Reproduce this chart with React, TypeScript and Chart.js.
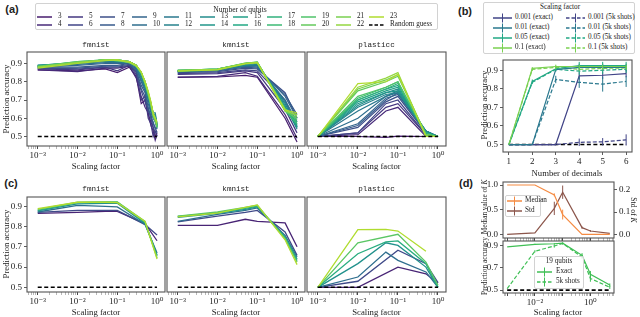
import React, { useEffect, useRef } from 'react';
import { Chart, registerables } from 'chart.js';

Chart.register(...registerables);

const SERIF = '"Liberation Serif", "DejaVu Serif", serif';
const MONO = '"Liberation Mono", "DejaVu Sans Mono", monospace';
const SANS = '"Liberation Sans", "DejaVu Sans", sans-serif';
const TXT = '#222';

// ---------------- data ----------------
const QUBITS = [3, 4, 5, 6, 7, 8, 9, 10, 11, 12, 13, 14, 15, 16, 17, 18, 19, 20, 21, 22, 23];
const RANDOM_X = [0.001, 1];
const RANDOM_Y = [0.5, 0.5];

// (a) fmnist
const X_FMNIST_A = [0.001, 0.01, 0.05, 0.1, 0.2, 0.3, 0.4, 0.5, 0.6, 0.7, 0.8, 0.9, 1.0];
const FMNIST_A = [
  [0.865, 0.86, 0.87, 0.85, 0.88, 0.83, 0.68, 0.7, 0.62, 0.58, 0.55, 0.5, 0.52],
  [0.865, 0.855, 0.875, 0.875, 0.885, 0.82, 0.72, 0.66, 0.63, 0.56, 0.53, 0.48, 0.51],
  [0.87, 0.865, 0.88, 0.86, 0.89, 0.85, 0.7, 0.72, 0.6, 0.57, 0.5, 0.53, 0.5],
  [0.875, 0.87, 0.88, 0.88, 0.89, 0.84, 0.75, 0.69, 0.65, 0.6, 0.55, 0.52, 0.53],
  [0.875, 0.875, 0.885, 0.885, 0.895, 0.86, 0.76, 0.72, 0.64, 0.62, 0.57, 0.55, 0.52],
  [0.88, 0.88, 0.89, 0.89, 0.9, 0.86, 0.78, 0.74, 0.66, 0.6, 0.58, 0.54, 0.55],
  [0.88, 0.89, 0.9, 0.9, 0.9, 0.87, 0.8, 0.75, 0.68, 0.63, 0.6, 0.58, 0.54],
  [0.885, 0.895, 0.905, 0.905, 0.905, 0.875, 0.81, 0.76, 0.7, 0.64, 0.61, 0.6, 0.56],
  [0.885, 0.9, 0.91, 0.91, 0.905, 0.88, 0.82, 0.77, 0.71, 0.66, 0.62, 0.62, 0.55],
  [0.89, 0.9, 0.915, 0.91, 0.91, 0.885, 0.83, 0.78, 0.72, 0.67, 0.63, 0.63, 0.57],
  [0.89, 0.905, 0.915, 0.915, 0.91, 0.89, 0.84, 0.77, 0.73, 0.66, 0.62, 0.61, 0.56],
  [0.89, 0.905, 0.92, 0.915, 0.91, 0.885, 0.84, 0.79, 0.72, 0.68, 0.63, 0.6, 0.57],
  [0.885, 0.905, 0.92, 0.92, 0.91, 0.89, 0.85, 0.79, 0.74, 0.67, 0.61, 0.61, 0.56],
  [0.885, 0.905, 0.92, 0.915, 0.91, 0.885, 0.845, 0.8, 0.73, 0.68, 0.62, 0.6, 0.55],
  [0.885, 0.91, 0.92, 0.92, 0.91, 0.89, 0.85, 0.8, 0.74, 0.68, 0.63, 0.59, 0.56],
  [0.885, 0.905, 0.92, 0.92, 0.91, 0.885, 0.85, 0.79, 0.73, 0.67, 0.62, 0.6, 0.55],
  [0.88, 0.905, 0.92, 0.915, 0.905, 0.89, 0.845, 0.8, 0.74, 0.68, 0.62, 0.58, 0.56],
  [0.885, 0.91, 0.92, 0.92, 0.91, 0.885, 0.85, 0.8, 0.73, 0.67, 0.61, 0.59, 0.55],
  [0.88, 0.905, 0.92, 0.915, 0.91, 0.89, 0.85, 0.79, 0.74, 0.68, 0.62, 0.59, 0.56],
  [0.88, 0.905, 0.92, 0.92, 0.905, 0.885, 0.85, 0.8, 0.74, 0.69, 0.62, 0.6, 0.57],
  [0.875, 0.9, 0.915, 0.92, 0.91, 0.89, 0.855, 0.8, 0.75, 0.69, 0.63, 0.6, 0.58],
];

// (a) kmnist
const X_KMNIST_A = [0.001, 0.01, 0.05, 0.1, 0.5, 1.0];
const KMNIST_A = [
  [0.824, 0.826, 0.835, 0.825, 0.6, 0.47],
  [0.826, 0.83, 0.85, 0.83, 0.62, 0.49],
  [0.84, 0.845, 0.86, 0.85, 0.65, 0.52],
  [0.845, 0.85, 0.865, 0.86, 0.7, 0.55],
  [0.85, 0.855, 0.875, 0.87, 0.74, 0.6],
  [0.855, 0.86, 0.88, 0.875, 0.73, 0.62],
  [0.855, 0.865, 0.885, 0.88, 0.72, 0.6],
  [0.855, 0.865, 0.885, 0.885, 0.7, 0.58],
  [0.855, 0.865, 0.89, 0.89, 0.69, 0.56],
  [0.855, 0.865, 0.89, 0.895, 0.68, 0.55],
  [0.858, 0.868, 0.895, 0.9, 0.67, 0.54],
  [0.86, 0.868, 0.897, 0.902, 0.66, 0.55],
  [0.862, 0.87, 0.898, 0.905, 0.66, 0.56],
  [0.86, 0.87, 0.9, 0.905, 0.65, 0.57],
  [0.862, 0.87, 0.9, 0.907, 0.65, 0.58],
  [0.86, 0.868, 0.9, 0.905, 0.64, 0.57],
  [0.862, 0.87, 0.902, 0.908, 0.65, 0.59],
  [0.86, 0.868, 0.9, 0.906, 0.64, 0.6],
  [0.862, 0.87, 0.902, 0.908, 0.65, 0.61],
  [0.86, 0.868, 0.9, 0.905, 0.64, 0.62],
  [0.858, 0.865, 0.898, 0.905, 0.645, 0.63],
];

// (a) plasticc
const X_PLASTICC_A = [0.001, 0.01, 0.05, 0.1, 0.5, 1.0];
const PLASTICC_A = [
  [0.5, 0.5, 0.495, 0.502, 0.5, 0.5],
  [0.5, 0.51, 0.64, 0.66, 0.5, 0.5],
  [0.5, 0.52, 0.66, 0.68, 0.51, 0.5],
  [0.5, 0.52, 0.68, 0.7, 0.51, 0.5],
  [0.5, 0.55, 0.69, 0.72, 0.52, 0.5],
  [0.5, 0.56, 0.7, 0.74, 0.52, 0.5],
  [0.5, 0.57, 0.71, 0.73, 0.53, 0.5],
  [0.5, 0.6, 0.72, 0.74, 0.53, 0.5],
  [0.5, 0.64, 0.72, 0.75, 0.53, 0.5],
  [0.5, 0.66, 0.73, 0.74, 0.53, 0.5],
  [0.5, 0.67, 0.74, 0.76, 0.53, 0.5],
  [0.5, 0.68, 0.74, 0.75, 0.52, 0.5],
  [0.5, 0.69, 0.75, 0.77, 0.52, 0.5],
  [0.5, 0.7, 0.76, 0.78, 0.52, 0.5],
  [0.5, 0.7, 0.76, 0.79, 0.52, 0.5],
  [0.5, 0.71, 0.77, 0.8, 0.51, 0.5],
  [0.5, 0.72, 0.77, 0.8, 0.51, 0.5],
  [0.5, 0.75, 0.8, 0.83, 0.51, 0.5],
  [0.5, 0.76, 0.81, 0.84, 0.51, 0.5],
  [0.5, 0.77, 0.82, 0.85, 0.5, 0.5],
  [0.5, 0.79, 0.8, 0.84, 0.5, 0.5],
];

// (c) selected runs
const X_C = [0.001, 0.01, 0.05, 0.1, 0.5, 1.0];
const FMNIST_C = [
  [0.865, 0.87, 0.875, 0.875, 0.815, 0.73],
  [0.87, 0.88, 0.88, 0.88, 0.81, 0.758],
  [0.872, 0.905, 0.9, 0.897, 0.81, 0.67],
  [0.877, 0.912, 0.915, 0.915, 0.815, 0.66],
  [0.88, 0.918, 0.92, 0.92, 0.82, 0.655],
  [0.885, 0.92, 0.922, 0.922, 0.825, 0.645],
  [0.888, 0.92, 0.92, 0.918, 0.825, 0.64],
];
const KMNIST_C = [
  [0.806, 0.806, 0.836, 0.826, 0.818, 0.7],
  [0.823, 0.852, 0.87, 0.88, 0.773, 0.658],
  [0.826, 0.86, 0.88, 0.892, 0.757, 0.65],
  [0.845, 0.865, 0.885, 0.897, 0.75, 0.64],
  [0.85, 0.868, 0.89, 0.9, 0.745, 0.632],
  [0.852, 0.872, 0.895, 0.905, 0.74, 0.625],
  [0.848, 0.866, 0.895, 0.907, 0.735, 0.612],
];
const PLASTICC_C = [
  [0.5, 0.5, null, 0.6, 0.567, 0.52],
  [0.5, 0.53, null, 0.683, 0.617, 0.523],
  [0.5, 0.551, 0.674, 0.633, 0.576, 0.5],
  [0.5, 0.617, 0.72, 0.707, 0.6, 0.5],
  [0.5, 0.666, 0.724, 0.729, 0.617, 0.5],
  [0.5, 0.72, null, 0.762, 0.625, 0.51],
  [0.5, 0.785, 0.786, 0.778, 0.678, null],
];

// (b)
const DECIMALS = [1, 2, 3, 4, 5, 6];
const SCALES_B = ['0.001', '0.01', '0.05', '0.1'];
const B_EXACT = [
  [0.5, 0.5, 0.5, 0.87, 0.873, 0.882],
  [0.5, 0.5, 0.903, 0.915, 0.915, 0.915],
  [0.5, 0.84, 0.908, 0.925, 0.925, 0.925],
  [0.5, 0.91, 0.92, 0.92, 0.92, 0.92],
];
const B_EXACT_ERR = [
  [0, 0, 0, 0.02, 0.02, 0.02],
  [0, 0, 0.01, 0.02, 0.02, 0.02],
  [0, 0.01, 0.01, 0.02, 0.02, 0.02],
  [0, 0.005, 0.01, 0.01, 0.01, 0.01],
];
const B_SHOTS = [
  [0.5, 0.5, 0.5, 0.512, 0.515, 0.525],
  [0.5, 0.5, 0.85, 0.835, 0.825, 0.84],
  [0.5, 0.835, 0.905, 0.895, 0.9, 0.905],
  [0.5, 0.905, 0.915, 0.905, 0.91, 0.912],
];
const B_SHOTS_ERR = [
  [0, 0, 0.005, 0.02, 0.02, 0.03],
  [0, 0, 0.02, 0.03, 0.04, 0.03],
  [0, 0.01, 0.01, 0.02, 0.02, 0.02],
  [0, 0.01, 0.01, 0.01, 0.01, 0.01],
];
const B_RANDOM_X = [1, 6];

// (d)
const X_D = [0.001, 0.01, 0.05, 0.1, 0.5, 1, 5];
const D_MEDIAN = [1.0, 1.0, 0.8, 0.4, 0.0, 0.0, 0.0];
const D_MEDIAN_ERR = [0, 0, 0.03, 0.1, 0, 0, 0];
const D_STD = [0.0, 0.006, 0.117, 0.19, 0.03, 0.015, 0.004];
const D_STD_ERR = [0, 0, 0.03, 0.03, 0.005, 0.004, 0];
const D_EXACT = [0.892, 0.915, 0.92, 0.925, 0.815, 0.643, 0.545];
const D_EXACT_ERR = [0, 0.005, 0.005, 0.005, 0.02, 0.03, 0.015];
const D_SHOTS = [0.513, 0.852, 0.9, 0.922, 0.8, 0.605, 0.525];
const D_SHOTS_ERR = [0, 0.01, 0.015, 0.01, 0.02, 0.03, 0.015];
const D_RANDOM_X = [0.001, 5];

const Y_TICKS_A = [0.5, 0.6, 0.7, 0.8, 0.9];
const Y_TICKS_D_TOP = [0.0, 0.5, 1.0];
const Y_TICKS_D_STD = [0.0, 0.1, 0.2];
const Y_TICKS_D_BOT = [0.5, 0.7, 0.9];

// ---------------- styling helpers ----------------
const VIR = ['#440154', '#482475', '#414487', '#355f8d', '#2a788e', '#21918c', '#22a884', '#44bf70', '#7ad151', '#bddf26', '#fde725'];
function hexRgb(h: string) {
  return [parseInt(h.slice(1, 3), 16), parseInt(h.slice(3, 5), 16), parseInt(h.slice(5, 7), 16)];
}
function viridis(t: number) {
  const x = Math.max(0, Math.min(1, t)) * 10;
  const i = Math.min(9, Math.floor(x));
  const f = x - i;
  const a = hexRgb(VIR[i]);
  const b = hexRgb(VIR[i + 1]);
  const c = a.map((v, k) => Math.round(v + (b[k] - v) * f));
  return `rgb(${c[0]},${c[1]},${c[2]})`;
}
const qubitColor = (n: number) => viridis(0.08 + ((n - 3) / 20) * 0.8);
const C_SHADES = [0.1, 0.22, 0.36, 0.5, 0.62, 0.74, 0.88].map(viridis);
const B_COLORS = [0.2, 0.4, 0.6, 0.8].map(viridis);
const ORANGE = '#f58b42';
const BROWN = '#8c564b';
const GREEN = '#3fbf55';

const SUP: Record<string, string> = { '-': '\u207b', '0': '\u2070', '1': '\u00b9', '2': '\u00b2', '3': '\u00b3', '4': '\u2074', '5': '\u2075' };
function isPow(v: number) {
  const l = Math.log10(v);
  return Math.abs(l - Math.round(l)) < 1e-6;
}
function powLabel(v: number, every: number) {
  if (!isPow(v)) return '';
  const e = Math.round(Math.log10(v));
  if (e % every !== 0) return '';
  return '10' + String(e).split('').map((c) => SUP[c]).join('');
}
function logTickValues(min: number, max: number) {
  const out: number[] = [];
  for (let d = -5; d <= 2; d++) {
    for (let k = 1; k <= 9; k++) {
      const v = k * Math.pow(10, d);
      if (v >= min * 1.0001 && v <= max * 0.9999) out.push(v);
    }
  }
  return out;
}

function line(xs: number[], ys: (number | null)[], color: string, extra: any = {}) {
  return {
    data: xs.map((x, i) => ({ x, y: ys[i] })),
    borderColor: color,
    backgroundColor: color,
    borderWidth: 1.2,
    pointRadius: 0,
    pointHoverRadius: 0,
    tension: 0,
    spanGaps: true,
    fill: false,
    ...extra,
  };
}
const dashed = (xs: number[], ys: number[]) =>
  line(xs, ys, '#000', { borderDash: [4, 2.5], borderWidth: 1.5, order: 0 });

const framePlugin = {
  id: 'frame',
  afterDraw(chart: any) {
    const { ctx, chartArea: a } = chart;
    ctx.save();
    ctx.strokeStyle = '#555';
    ctx.lineWidth = 1.1;
    ctx.setLineDash([]);
    ctx.strokeRect(a.left, a.top, a.right - a.left, a.bottom - a.top);
    ctx.restore();
  },
};
const errPlugin = {
  id: 'errbars',
  afterDatasetsDraw(chart: any) {
    const ctx = chart.ctx;
    chart.data.datasets.forEach((ds: any, i: number) => {
      if (!ds.errs) return;
      const meta = chart.getDatasetMeta(i);
      const ys = chart.scales[meta.yAxisID];
      ctx.save();
      ctx.strokeStyle = ds.borderColor;
      ctx.lineWidth = 1;
      ctx.setLineDash([]);
      meta.data.forEach((pt: any, j: number) => {
        const e = ds.errs[j];
        const v = ds.data[j].y;
        if (!e || v == null) return;
        ctx.beginPath();
        ctx.moveTo(pt.x, ys.getPixelForValue(v - e));
        ctx.lineTo(pt.x, ys.getPixelForValue(v + e));
        ctx.stroke();
      });
      ctx.restore();
    });
  },
};

const fix = (size: number, horizontal: boolean) => (s: any) => {
  if (horizontal) s.height = size;
  else s.width = size;
  s.paddingLeft = 0;
  s.paddingRight = 0;
  s.paddingTop = 0;
  s.paddingBottom = 0;
};
const gridOpts = (show: boolean) => ({
  display: true,
  drawOnChartArea: false,
  drawTicks: show,
  tickLength: 3,
  tickColor: '#333',
  tickWidth: 0.8,
});
function logX(minE: number, maxE: number, height: number, labels: boolean, every = 1) {
  const min = Math.pow(10, minE);
  const max = Math.pow(10, maxE);
  return {
    type: 'logarithmic',
    position: 'bottom',
    min,
    max,
    afterBuildTicks: (s: any) => {
      s.ticks = logTickValues(min, max).map((v) => ({ value: v }));
    },
    afterFit: fix(height, true),
    ticks: {
      display: labels,
      autoSkip: false,
      maxRotation: 0,
      minRotation: 0,
      padding: 1,
      color: TXT,
      font: { family: SERIF, size: 9 },
      callback: (v: any) => powLabel(Number(v), every),
    },
    grid: {
      ...gridOpts(true),
      tickColor: (c: any) => (c.tick && isPow(c.tick.value) ? '#333' : '#888'),
      tickWidth: (c: any) => (c.tick && isPow(c.tick.value) ? 0.9 : 0.6),
    },
    border: { display: false },
  };
}
function linAxis(position: string, min: number, max: number, ticks: number[], size: number, labels: boolean, digits: number, horizontal = false) {
  return {
    type: 'linear',
    position,
    min,
    max,
    afterBuildTicks: (s: any) => {
      s.ticks = ticks.map((v) => ({ value: v }));
    },
    afterFit: fix(size, horizontal),
    ticks: {
      display: labels,
      autoSkip: false,
      maxRotation: 0,
      minRotation: 0,
      padding: horizontal ? 1 : 2,
      color: TXT,
      font: { family: SERIF, size: 9 },
      callback: (v: any) => Number(v).toFixed(digits),
    },
    grid: gridOpts(labels || horizontal),
    border: { display: false },
  };
}
function config(datasets: any[], scales: any, pad: number[], rightAxis = false) {
  return {
    type: 'line',
    data: { datasets },
    options: {
      animation: false,
      responsive: false,
      events: [],
      layout: { padding: { left: 0, right: rightAxis ? 0 : pad[1], top: pad[2], bottom: 0 }, autoPadding: false },
      plugins: { legend: { display: false }, tooltip: { enabled: false }, title: { display: false } },
      scales,
    },
    plugins: [framePlugin, errPlugin],
  } as any;
}

// ---------------- components ----------------
function Panel({ frame, pad, build }: { frame: number[]; pad: number[]; build: (pad: number[]) => any }) {
  const ref = useRef<HTMLCanvasElement>(null);
  const [l, t, r, b] = frame;
  const [pl, pr, pt, pb] = pad;
  const w = r - l + pl + pr;
  const h = b - t + pt + pb;
  useEffect(() => {
    const chart = new Chart(ref.current as HTMLCanvasElement, build(pad));
    return () => chart.destroy();
  }, []);
  return (
    <canvas
      ref={ref}
      width={w}
      height={h}
      style={{ position: 'absolute', left: l - pl, top: t - pt, width: w, height: h }}
    />
  );
}

function T({ x, y, children, size = 8.7, family = SERIF, weight = 400, rotate = 0, align = 'center', color = TXT }: any) {
  const tx = align === 'center' ? '-50%' : align === 'left' ? '0%' : '-100%';
  return (
    <div
      style={{
        position: 'absolute',
        left: x,
        top: y,
        transform: `translate(${tx}, -50%) rotate(${rotate}deg)`,
        fontFamily: family,
        fontSize: size,
        fontWeight: weight,
        lineHeight: 1,
        whiteSpace: 'nowrap',
        color,
      }}
    >
      {children}
    </div>
  );
}

function Mark({ x, y, w = 15, color, dash, err = false, width = 1.5 }: any) {
  return (
    <svg style={{ position: 'absolute', left: x, top: y - 5, overflow: 'visible' }} width={w} height={10}>
      <line x1={0} y1={5} x2={w} y2={5} stroke={color} strokeWidth={width} strokeDasharray={dash} />
      {err && <line x1={w / 2} y1={0.5} x2={w / 2} y2={9.5} stroke={color} strokeWidth={1} />}
    </svg>
  );
}

function Box({ x, y, w, h }: any) {
  return (
    <div
      style={{
        position: 'absolute',
        left: x,
        top: y,
        width: w,
        height: h,
        border: '1px solid #d2d2d2',
        borderRadius: 2,
        background: 'rgba(255,255,255,0.85)',
        boxSizing: 'border-box',
      }}
    />
  );
}

// ---------------- panel builders ----------------
const A_FRAMES = [
  [27, 52, 165, 146],
  [167, 52, 305, 146],
  [307, 52, 446, 146],
];
const C_FRAMES = [
  [27, 197, 165, 292],
  [167, 197, 305, 292],
  [307, 197, 446, 292],
];
const X_MIN_E = -3.27;
const X_MAX_E = 0.2;

function qubitSets(xs: number[], rows: number[][]) {
  return rows.map((ys, k) => line(xs, ys, qubitColor(QUBITS[k]), { order: 100 - k }));
}
function shadeSets(xs: number[], rows: (number | null)[][]) {
  return rows.map((ys, k) => line(xs, ys, C_SHADES[k], { order: 100 - k, borderWidth: 1.3 }));
}
function scalingBuild(datasets: any[], yMin: number, yMax: number, showY: boolean) {
  return (pad: number[]) =>
    config(
      [dashed(RANDOM_X, RANDOM_Y), ...datasets],
      {
        x: logX(X_MIN_E, X_MAX_E, pad[3], true),
        y: linAxis('left', yMin, yMax, Y_TICKS_A, pad[0], showY, 1),
      },
      pad
    );
}

const buildB = (pad: number[]) => {
  const ds: any[] = [line(B_RANDOM_X, RANDOM_Y, '#000', { borderDash: [4, 2.5], borderWidth: 1.5, order: 500 })];
  SCALES_B.forEach((_, i) => {
    ds.push(line(DECIMALS, B_EXACT[i], B_COLORS[i], { errs: B_EXACT_ERR[i], order: 10 - i }));
    ds.push(line(DECIMALS, B_SHOTS[i], B_COLORS[i], { errs: B_SHOTS_ERR[i], borderDash: [4, 2], order: 20 - i }));
  });
  return config(
    ds,
    {
      x: linAxis('bottom', 0.75, 6.25, DECIMALS, pad[3], true, 0, true),
      y: linAxis('left', 0.46, 0.955, Y_TICKS_A, pad[0], true, 1),
    },
    pad
  );
};

const buildDTop = (pad: number[]) =>
  config(
    [
      line(X_D, D_MEDIAN, ORANGE, { errs: D_MEDIAN_ERR, yAxisID: 'y' }),
      line(X_D, D_STD, BROWN, { errs: D_STD_ERR, yAxisID: 'y2' }),
    ],
    {
      x: logX(-3.15, 0.85, pad[3], false, 2),
      y: linAxis('left', -0.075, 1.061, Y_TICKS_D_TOP, pad[0], true, 1),
      y2: linAxis('right', -0.0167, 0.236, Y_TICKS_D_STD, pad[1], true, 1),
    },
    pad,
    true
  );

const buildDBottom = (pad: number[]) =>
  config(
    [
      line(D_RANDOM_X, RANDOM_Y, '#000', { borderDash: [4, 2.5], borderWidth: 1.8, order: 50 }),
      line(X_D, D_EXACT, GREEN, { errs: D_EXACT_ERR, order: 1 }),
      line(X_D, D_SHOTS, GREEN, { errs: D_SHOTS_ERR, borderDash: [4, 2], order: 2 }),
    ],
    {
      x: logX(-3.15, 0.85, pad[3], true, 2),
      y: linAxis('left', 0.473, 0.945, Y_TICKS_D_BOT, pad[0], true, 1),
    },
    pad
  );

const LEG_COLS = [37, 68, 100, 132, 164, 200, 233, 267, 301, 336, 369];

export default function App() {
  const row1 = QUBITS.filter((_, i) => i % 2 === 0);
  const row2 = QUBITS.filter((_, i) => i % 2 === 1);
  return (
    <div
      style={{
        position: 'fixed',
        left: 0,
        top: 0,
        width: 640,
        height: 317,
        overflow: 'hidden',
        background: '#fff',
      }}
    >
      {/* (a) */}
      <Panel frame={A_FRAMES[0]} pad={[27, 1, 5, 14]} build={scalingBuild(qubitSets(X_FMNIST_A, FMNIST_A), 0.448, 0.963, true)} />
      <Panel frame={A_FRAMES[1]} pad={[1, 1, 5, 14]} build={scalingBuild(qubitSets(X_KMNIST_A, KMNIST_A), 0.448, 0.963, false)} />
      <Panel frame={A_FRAMES[2]} pad={[1, 1, 5, 14]} build={scalingBuild(qubitSets(X_PLASTICC_A, PLASTICC_A), 0.448, 0.963, false)} />
      {/* (c) */}
      <Panel frame={C_FRAMES[0]} pad={[27, 1, 5, 14]} build={scalingBuild(shadeSets(X_C, FMNIST_C), 0.477, 0.946, true)} />
      <Panel frame={C_FRAMES[1]} pad={[1, 1, 5, 14]} build={scalingBuild(shadeSets(X_C, KMNIST_C), 0.477, 0.946, false)} />
      <Panel frame={C_FRAMES[2]} pad={[1, 1, 5, 14]} build={scalingBuild(shadeSets(X_C, PLASTICC_C), 0.477, 0.946, false)} />
      {/* (b) */}
      <Panel frame={[503, 60, 632, 152]} pad={[20, 2, 5, 14]} build={buildB} />
      {/* (d) */}
      <Panel frame={[503, 182, 614, 238]} pad={[20, 22, 5, 3]} build={buildDTop} />
      <Panel frame={[503, 241, 614, 293]} pad={[20, 2, 3, 14]} build={buildDBottom} />

      {/* panel letters */}
      <T x={12} y={9} size={11} family={SANS} weight={700}>(a)</T>
      <T x={465} y={11} size={11} family={SANS} weight={700}>(b)</T>
      <T x={11} y={183} size={11} family={SANS} weight={700}>(c)</T>
      <T x={466} y={183} size={11} family={SANS} weight={700}>(d)</T>

      {/* titles */}
      {['fmnist', 'kmnist', 'plasticc'].map((name, i) => (
        <React.Fragment key={name}>
          <T x={(A_FRAMES[i][0] + A_FRAMES[i][2]) / 2} y={45.5} size={7.6} family={MONO}>{name}</T>
          <T x={(C_FRAMES[i][0] + C_FRAMES[i][2]) / 2} y={189.5} size={7.6} family={MONO}>{name}</T>
          <T x={(A_FRAMES[i][0] + A_FRAMES[i][2]) / 2} y={165.5}>Scaling factor</T>
          <T x={(C_FRAMES[i][0] + C_FRAMES[i][2]) / 2} y={311.5}>Scaling factor</T>
        </React.Fragment>
      ))}
      <T x={6} y={99} rotate={-90}>Prediction accuracy</T>
      <T x={6} y={244} rotate={-90}>Prediction accuracy</T>
      <T x={484} y={105} rotate={-90}>Prediction accuracy</T>
      <T x={567} y={173}>Number of decimals</T>
      <T x={485} y={207} rotate={-90} size={7.3}>Median value of <i>K</i></T>
      <T x={485} y={266} rotate={-90} size={7.3}>Prediction accuracy</T>
      <T x={633} y={210} rotate={90} size={7.6}>Std of <i>K</i></T>
      <T x={558} y={312}>Scaling factor</T>

      {/* legend (a) */}
      <Box x={35} y={3} w={403} h={27} />
      <T x={240} y={10} size={7.6}>Number of qubits</T>
      {row1.map((n, i) => (
        <React.Fragment key={'r1' + n}>
          <Mark x={LEG_COLS[i]} y={16.5} color={qubitColor(n)} />
          <T x={LEG_COLS[i] + 21} y={16.5} size={7.2} align="left">{n}</T>
        </React.Fragment>
      ))}
      {row2.map((n, i) => (
        <React.Fragment key={'r2' + n}>
          <Mark x={LEG_COLS[i]} y={24.5} color={qubitColor(n)} />
          <T x={LEG_COLS[i] + 21} y={24.5} size={7.2} align="left">{n}</T>
        </React.Fragment>
      ))}
      <Mark x={LEG_COLS[10]} y={24.5} color="#000" dash="3.5 2" />
      <T x={LEG_COLS[10] + 21} y={24.5} size={7.2} align="left">Random guess</T>

      {/* legend (b) */}
      <Box x={483} y={2} w={152} h={52} />
      <T x={560} y={8} size={7.2}>Scaling factor</T>
      {SCALES_B.map((s, i) => (
        <React.Fragment key={'b' + s}>
          <Mark x={493} y={17.5 + 10 * i} w={19} color={B_COLORS[i]} err />
          <T x={515} y={17.5 + 10 * i} size={7.2} align="left">{s} (exact)</T>
          <Mark x={566} y={17.5 + 10 * i} w={19} color={B_COLORS[i]} err dash="3.5 2" />
          <T x={588} y={17.5 + 10 * i} size={7.2} align="left">{s} (5k shots)</T>
        </React.Fragment>
      ))}

      {/* legend (d) top */}
      <Box x={505} y={195} w={36} h={22} />
      <Mark x={507} y={201} w={15} color={ORANGE} err />
      <T x={525} y={201} size={7.2} align="left">Median</T>
      <Mark x={507} y={210.5} w={15} color={BROWN} err />
      <T x={525} y={210.5} size={7.2} align="left">Std</T>

      {/* legend (d) bottom */}
      <Box x={534} y={256} w={50} h={33} />
      <T x={559} y={262} size={7.2}>19 qubits</T>
      <Mark x={537} y={272} w={15} color={GREEN} err />
      <T x={556} y={272} size={7.2} align="left">Exact</T>
      <Mark x={537} y={282} w={15} color={GREEN} err dash="3.5 2" />
      <T x={556} y={282} size={7.2} align="left">5k shots</T>
    </div>
  );
}
